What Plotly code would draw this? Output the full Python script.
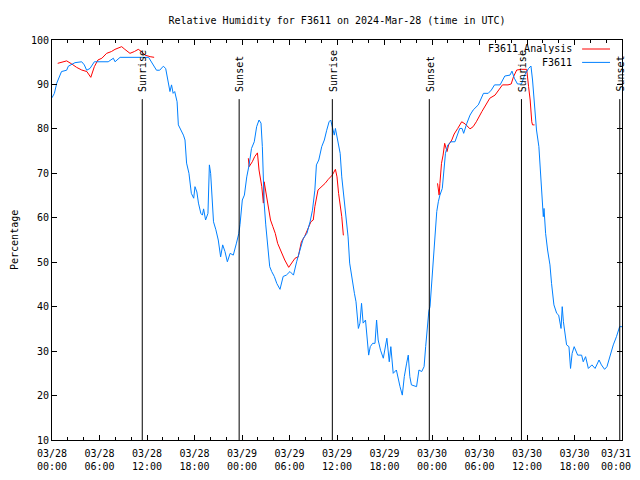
import plotly.graph_objects as go

# ---------------- data (hours since 2024-03-28 00:00 UTC) ----------------
obs_hours = [0.0, 0.3, 0.6, 1.2, 1.85, 2.06, 2.9, 3.75, 4.08, 4.38, 4.8, 5.35, 7.1, 7.75, 7.96, 8.6,
             12.2, 12.6, 13.2, 13.6, 14.06, 14.36, 14.7, 14.9, 15.1, 15.3, 15.5, 15.8, 15.96, 16.2,
             16.6, 16.8, 17.0, 17.3, 17.6, 17.9, 18.06, 18.3, 18.5, 18.8, 19.0, 19.15, 19.4, 19.7,
             19.75, 19.88, 20.04, 20.2, 20.4, 20.7, 21.0, 21.3, 21.56, 21.85, 22.15, 22.5, 22.9,
             23.3, 23.6, 23.75, 23.9, 24.04, 24.3, 24.6, 24.9, 25.2, 25.55, 25.85, 26.15, 26.4,
             26.57, 26.8, 27.0, 27.25, 27.5, 27.75, 28.08, 28.4, 28.8, 29.2, 29.6, 30.06, 30.5,
             30.9, 31.3, 31.75, 32.2, 32.6, 32.9, 33.2, 33.4, 33.7, 34.07, 34.4, 34.7, 35.0, 35.2,
             35.45, 35.66, 35.8, 36.1, 36.4, 36.6, 37.0, 37.4, 37.6, 37.9, 38.2, 38.4, 38.7, 38.9,
             39.1, 39.3, 39.6, 40.0, 40.2, 40.5, 40.8, 41.0, 41.2, 41.5, 41.85, 42.3, 42.6, 42.8,
             43.1, 43.5, 43.75, 43.96, 44.25, 44.5, 44.8, 45.0, 45.2, 45.4, 46.05, 46.35, 46.7,
             47.0, 47.2, 47.4, 47.6, 47.75, 47.9, 48.0, 48.2, 48.4, 48.6, 48.8, 49.0, 49.3, 49.56,
             49.7, 50.0, 50.4, 50.9, 51.25, 51.5, 51.8, 52.0, 52.4, 52.8, 53.2, 53.85, 54.5, 55.1,
             55.5, 55.9, 56.6, 56.8, 57.2, 57.85, 58.1, 58.4, 58.8, 59.3, 59.7, 60.2, 60.5, 60.7,
             60.9, 61.2, 61.5, 61.8, 61.95, 62.06, 62.15, 62.35, 62.6, 62.9, 63.1, 63.4, 63.75,
             64.0, 64.3, 64.45, 64.6, 64.8, 65.0, 65.3, 65.5, 65.7, 65.96, 66.4, 66.9, 67.1, 67.4,
             67.75, 68.2, 68.6, 68.8, 69.1, 69.4, 69.8, 70.1, 70.5, 70.9, 71.3, 71.7, 72.0]
obs_rh = [87.0, 88.0, 90.3, 92.9, 93.2, 94.1, 94.9, 95.1, 94.4, 93.2, 93.6, 95.1, 95.1, 95.9, 95.1, 96.1,
          96.1, 94.9, 93.2, 93.2, 94.1, 93.6, 90.3, 88.4, 89.9, 88.0, 88.4, 86.1, 80.9, 80.1,
          78.6, 77.5, 72.3, 70.0, 65.5, 64.4, 67.0, 65.8, 63.3, 61.0, 60.6, 62.0, 59.5, 61.0,
          63.3, 71.9, 70.0, 64.4, 59.1, 57.3, 55.0, 51.2, 53.9, 52.4, 50.1, 52.0, 51.6,
          54.3, 56.5, 58.5, 61.7, 64.0, 65.1, 69.2, 71.9, 75.6, 77.1, 80.5, 82.0, 81.3,
          76.0, 63.3, 58.4, 53.5, 49.0, 47.9, 46.8, 45.2, 43.9, 46.8, 47.1, 47.9, 47.1,
          50.1, 52.7, 55.4, 56.5, 59.1, 61.7, 66.2, 71.9, 73.0, 76.0, 77.5, 79.7, 81.6, 82.0,
          80.1, 78.6, 80.1, 77.5, 74.5, 69.2, 62.5, 55.7, 49.8, 46.0, 43.0, 41.1, 35.1, 36.3,
          40.75, 36.3, 37.0, 29.1, 31.0, 31.75, 31.75, 37.0, 32.5, 30.2, 28.4, 32.9, 27.6, 31.0,
          25.0, 25.75, 23.5, 22.0, 20.1, 24.25, 27.3, 29.1, 24.25, 22.4, 22.0, 25.75, 25.4,
          26.5, 31.0, 35.9, 39.0, 40.0, 43.75, 48.25, 52.0, 57.6, 61.4, 63.6, 65.1, 66.6, 70.75,
          74.5, 76.4, 77.1, 77.1, 78.6, 80.1, 80.1, 79.0, 81.25, 83.1, 84.25, 85.4, 88.0, 88.0,
          88.75, 89.9, 89.9, 90.6, 91.9, 92.1, 93.0, 91.4, 90.1, 90.1, 92.1, 93.6, 94.15, 91.0,
          85.75, 79.75, 76.0, 68.5, 62.5, 60.25, 62.1, 56.5, 52.75, 49.4, 45.25, 40.4, 38.5,
          38.1, 35.1, 40.0, 36.6, 34.0, 31.4, 31.0, 26.1, 29.5, 31.0, 29.1, 29.1, 27.6, 28.75,
          26.1, 26.9, 26.1, 27.0, 28.0, 26.9, 25.9, 26.5, 29.1, 31.4, 33.25, 35.5, 35.5]

ana_hours = [0.72, 1.2, 1.85, 2.5, 3.1, 3.75, 4.4, 4.9, 5.35, 5.8, 6.3, 6.9, 7.5, 7.96, 8.8, 9.2, 9.85,
             10.4, 10.9, 11.3, 11.75, 12.4, 12.9, None,
             24.8, 24.9, 25.3, 25.6, 25.95, 26.15, 26.5, 26.7, 26.8, 27.1, 27.3, 27.6, 27.9, 28.2,
             28.5, 28.9, 29.4, 29.9, 30.35, 30.7, 31.1, 31.5, 31.9, 32.4, 32.7, 33.0, 33.2, 33.6,
             34.07, 34.5, 34.9, 35.4, 35.8, 36.0, 36.2, 36.4, 36.6, 36.8, 36.85, None,
             48.7, 48.9, 49.0, 49.2, 49.4, 49.6, 49.9, 50.1, 50.5, 50.8, 51.25, 51.75, 52.2, 52.8,
             53.2, 53.6, 54.3, 54.9, 55.3, 55.96, 56.6, 56.9, 57.6, 58.0, 58.3, 58.7, 59.3, 59.96,
             60.2, 60.4, 60.6, 60.7, 60.95]
ana_rh = [94.75, 95.0, 95.3, 94.6, 93.85, 93.25, 92.9, 91.6, 94.0, 95.5, 95.9, 97.0, 97.4, 97.9, 98.5,
          97.9, 97.0, 97.4, 97.9, 97.4, 96.6, 96.25, 96.1, None,
          73.4, 71.5, 72.6, 73.75, 74.6, 70.75, 67.0, 63.3, 68.1, 64.75, 62.5, 59.5, 58.0, 56.5,
          54.25, 52.4, 50.5, 48.85, 49.9, 50.9, 51.2, 54.6, 55.75, 57.6, 59.1, 59.5, 62.5, 66.25,
          67.0, 67.75, 68.65, 69.6, 70.9, 69.2, 65.5, 63.3, 60.25, 56.1, 56.1, None,
          67.75, 65.1, 67.75, 72.25, 74.1, 76.75, 74.9, 76.4, 77.5, 78.85, 80.1, 81.6, 81.1, 80.0,
          80.5, 81.6, 83.9, 85.75, 86.9, 87.6, 89.1, 89.9, 89.9, 90.1, 91.75, 93.25, 93.4, 93.4,
          89.5, 86.5, 81.6, 80.9, 80.9]

sun_event_hours = [11.4, 23.64, 35.41, 47.66, 59.3, 71.72]
sun_event_names = ["Sunrise", "Sunset", "Sunrise", "Sunset", "Sunrise", "Sunset"]
sun_line_top = 86.7

NB = "\u00a0"
tick_hours = [0, 6, 12, 18, 24, 30, 36, 42, 48, 54, 60, 66, 72]
tick_labels = ["03/28<br>00:00", "03/28<br>06:00", "03/28<br>12:00", "03/28<br>18:00",
               "03/29<br>00:00", "03/29<br>06:00", "03/29<br>12:00", "03/29<br>18:00",
               "03/30<br>00:00", "03/30<br>06:00", "03/30<br>12:00", "03/30<br>18:00",
               "03/31" + NB * 2 + "<br>00:00" + NB * 2]
y_ticks = [10, 20, 30, 40, 50, 60, 70, 80, 90, 100]

series_names = ["F3611_Analysis", "F3611"]
series_colors = ["#ff0000", "#0080ff"]

FONT = "DejaVu Sans Mono"

fig = go.Figure()
fig.add_trace(go.Scatter(x=ana_hours, y=ana_rh, mode="lines", name=series_names[0],
                         line=dict(color=series_colors[0], width=1), connectgaps=False))
fig.add_trace(go.Scatter(x=obs_hours, y=obs_rh, mode="lines", name=series_names[1],
                         line=dict(color=series_colors[1], width=1)))

shapes = []
annotations = []
for h, name in zip(sun_event_hours, sun_event_names):
    shapes.append(dict(type="line", xref="x", yref="y", x0=h, x1=h, y0=10, y1=sun_line_top,
                       line=dict(color="black", width=1)))
    annotations.append(dict(x=h, y=sun_line_top + 1.2, xref="x", yref="y", text=name,
                            textangle=-90, showarrow=False, xanchor="center", yanchor="bottom",
                            xshift=1, font=dict(family=FONT, size=10, color="black")))

# manual gnuplot-style key (text left, sample right)
key_rows = [0.9775, 0.944]
for i, (nm, col) in enumerate(zip(series_names, series_colors)):
    annotations.append(dict(x=0.916, y=key_rows[i], xref="paper", yref="paper", text=nm,
                            showarrow=False, xanchor="right", yanchor="middle",
                            font=dict(family=FONT, size=10, color="black")))
    shapes.append(dict(type="line", xref="paper", yref="paper", x0=0.930, x1=0.979,
                       y0=key_rows[i], y1=key_rows[i], line=dict(color=col, width=1)))

annotations.append(dict(x=-0.0667, y=0.5, xref="paper", yref="paper", text="Percentage",
                        textangle=-90, showarrow=False, xanchor="center", yanchor="middle",
                        font=dict(family=FONT, size=10, color="black")))

# page body has an 8px margin, so the figure is 632x472 to fill the 640x480 window
fig.update_layout(
    width=632, height=472,
    margin=dict(l=44, r=18, t=32, b=40, autoexpand=False),
    paper_bgcolor="white", plot_bgcolor="white",
    showlegend=False,
    title=dict(text="Relative Humidity for F3611 on 2024-Mar-28 (time in UTC)",
               x=0.5, xref="paper", xanchor="center", y=1 - 12 / 472, yanchor="middle",
               font=dict(family=FONT, size=10, color="black")),
    shapes=shapes, annotations=annotations,
    font=dict(family=FONT, size=10, color="black"),
)
fig.update_xaxes(range=[0, 72], tickvals=tick_hours, ticktext=tick_labels, automargin=False,
                 showgrid=False, zeroline=False, showline=True, linecolor="black", linewidth=1,
                 mirror="allticks", ticks="inside", ticklen=5, tickcolor="black",
                 ticklabelstandoff=4, ticklabeloverflow="allow",
                 minor=dict(dtick=2, tick0=0, ticks="inside", ticklen=3, tickcolor="black",
                            showgrid=False),
                 tickfont=dict(family=FONT, size=10, color="black"))
fig.update_yaxes(range=[10, 100], tickvals=y_ticks, automargin=False,
                 showgrid=False, zeroline=False, showline=True, linecolor="black", linewidth=1,
                 mirror="allticks", ticks="inside", ticklen=5, tickcolor="black",
                 tickfont=dict(family=FONT, size=10, color="black"))

fig.write_html("out.html")
